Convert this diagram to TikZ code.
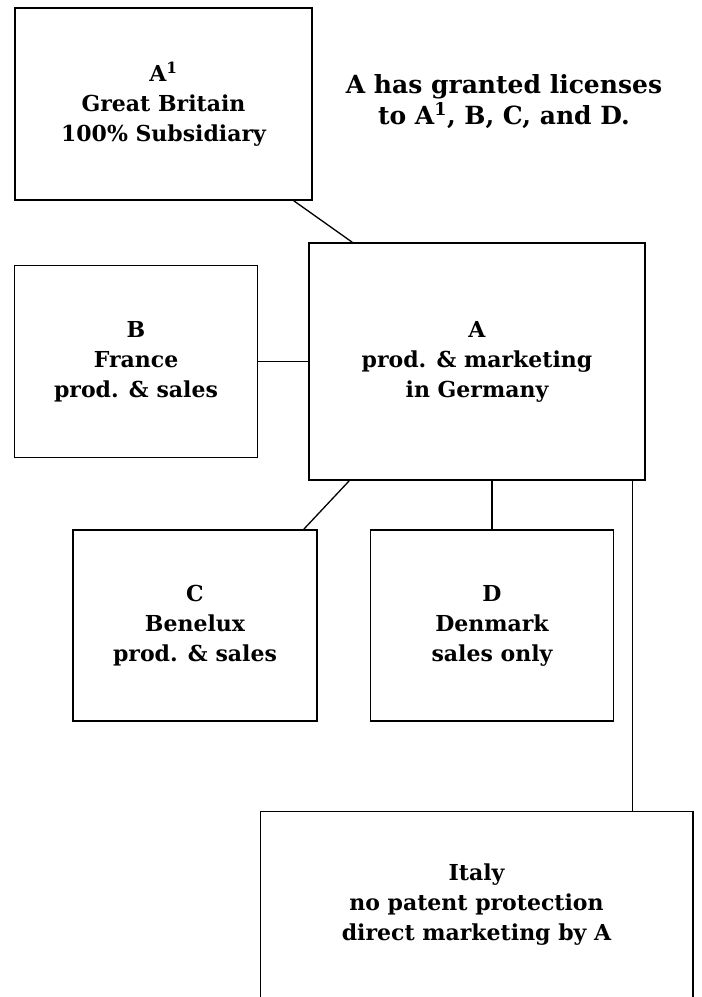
\documentclass[tikz,border=0pt]{standalone}
\usepackage{fontspec}
\setmainfont{DejaVu Serif}
\usepackage{tikz}
\usetikzlibrary{positioning,calc}

\begin{document}
\begin{tikzpicture}[x=1pt,y=-1pt,line width=1.5pt,
    box/.style={rectangle,draw,align=center,inner sep=0pt,font=\fontsize{22}{30}\selectfont\bfseries},
    link/.style={line width=1.3pt}]
    \useasboundingbox (0,0) rectangle (702,997);

    \node[box,minimum width=336pt,minimum height=237pt] (a) at (477,361.5) {A\\prod. \& marketing\\in Germany};
    \node[box,minimum width=297pt,minimum height=192pt] (a1) at (163.5,104) {A\textsuperscript{1}\\Great Britain\\100\% Subsidiary};
    \node[box,minimum width=243pt,minimum height=192pt,left=50pt of a] (b) {B\\France\\prod. \& sales};
    \node[box,minimum width=244pt,minimum height=191pt] (c) at (195,625.5) {C\\Benelux\\prod. \& sales};
    \node[box,minimum width=243pt,minimum height=191pt,right=52pt of c] (d) {D\\Denmark\\sales only};
    \node[box,draw=none,minimum width=431pt,minimum height=185pt] (italy) at (476.5,904.5) {Italy\\no patent protection\\direct marketing by A};
    \draw (italy.south west) -- (italy.north west) -- (italy.north east) -- (italy.south east);

    % Title
    \node[align=center,font=\fontsize{25}{31}\selectfont\bfseries] (title) at (504,102) {A has granted licenses\\to A\textsuperscript{1}, B, C, and D.};

    \coordinate (a1x) at ($(a1.south east)+(-19,0)$);
    \coordinate (ax) at ($(a.north west)+(44,0)$);
    \coordinate (acx) at ($(a.south west)+(41,0)$);
    \coordinate (cx) at ($(c.north east)+(-14,0)$);
    \coordinate (aix) at ($(a.south east)+(-13,0)$);

    \draw[link] (a1x) -- (ax);
    \draw[link] (b.east) -- (b.east -| a.west);
    \draw[link] (acx) -- (cx);
    \draw[link] (d.north) -- (d.north |- a.south);
    \draw[link] (aix) -- (aix |- italy.north);
\end{tikzpicture}
\end{document}
